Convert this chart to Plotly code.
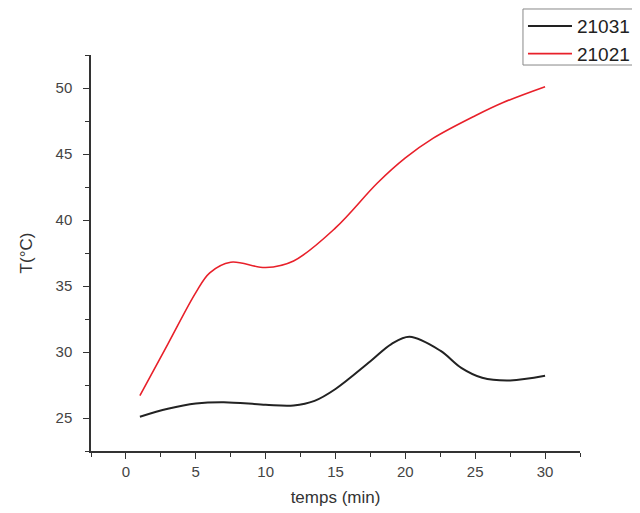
import plotly.graph_objects as go

# Data
t_21031 = [1, 3, 5, 7, 10, 12, 13.5, 15, 17.5, 19, 20.3, 22.5, 24, 25.5, 27.5, 30]
T_21031 = [25.1, 25.7, 26.1, 26.2, 26.0, 25.95, 26.3, 27.2, 29.3, 30.6, 31.15, 30.1, 28.8, 28.05, 27.85, 28.2]

t_21021 = [1, 3, 5, 6, 7.5, 10, 12, 15, 18, 20, 22, 25, 27, 30]
T_21021 = [26.7, 30.6, 34.5, 36.0, 36.8, 36.4, 36.9, 39.4, 42.8, 44.7, 46.2, 47.9, 48.9, 50.1]

x_ticks = [0, 5, 10, 15, 20, 25, 30]
y_ticks = [25, 30, 35, 40, 45, 50]

fig = go.Figure()
fig.add_trace(go.Scatter(x=t_21031, y=T_21031, mode="lines", name="21031",
                         line=dict(color="#222222", width=2, shape="spline", smoothing=1)))
fig.add_trace(go.Scatter(x=t_21021, y=T_21021, mode="lines", name="21021",
                         line=dict(color="#e8202a", width=1.6, shape="spline", smoothing=1)))

# legend frame running off the right edge of the page, as in the reference
fig.add_shape(type="rect", xref="paper", yref="paper",
              x0=0.8834, x1=1.3, y0=0.9747, y1=1.1162,
              line=dict(color="#888888", width=1), fillcolor="rgba(0,0,0,0)")

axis_font = dict(family="Liberation Sans, Arial, sans-serif", size=15, color="#444444")
fig.update_layout(
    width=640, height=513,
    margin=dict(l=83, r=68, t=47, b=70, autoexpand=False),
    paper_bgcolor="white", plot_bgcolor="white",
    font=dict(family="Liberation Sans, Arial, sans-serif", color="#333333"),
    showlegend=True,
    legend=dict(x=0.8834, y=1.121, xanchor="left", yanchor="top",
                borderwidth=0, bgcolor="rgba(0,0,0,0)",
                font=dict(size=19, color="#222222"), itemwidth=44,
                tracegroupgap=0),
    xaxis=dict(range=[-2.5, 32.5], tickvals=x_ticks, ticks="outside", ticklen=6,
               tickwidth=1.3, tickcolor="#333333", showline=True, linecolor="#333333",
               linewidth=1.5, showgrid=False, zeroline=False, tickfont=axis_font,
               minor=dict(dtick=2.5, tick0=0, ticks="outside", ticklen=4, tickcolor="#333333"),
               title=dict(text="temps (min)", font=dict(size=17, color="#333333"), standoff=12)),
    yaxis=dict(range=[22.5, 52.5], tickvals=y_ticks, ticks="outside", ticklen=6,
               tickwidth=1.3, tickcolor="#333333", showline=True, linecolor="#333333",
               linewidth=1.5, showgrid=False, zeroline=False, tickfont=axis_font,
               ticklabelstandoff=8,
               minor=dict(dtick=2.5, tick0=0, ticks="outside", ticklen=4, tickcolor="#333333"),
               title=dict(text="T(°C)", font=dict(size=17, color="#333333"), standoff=19)),
)

fig.write_html("out.html")
